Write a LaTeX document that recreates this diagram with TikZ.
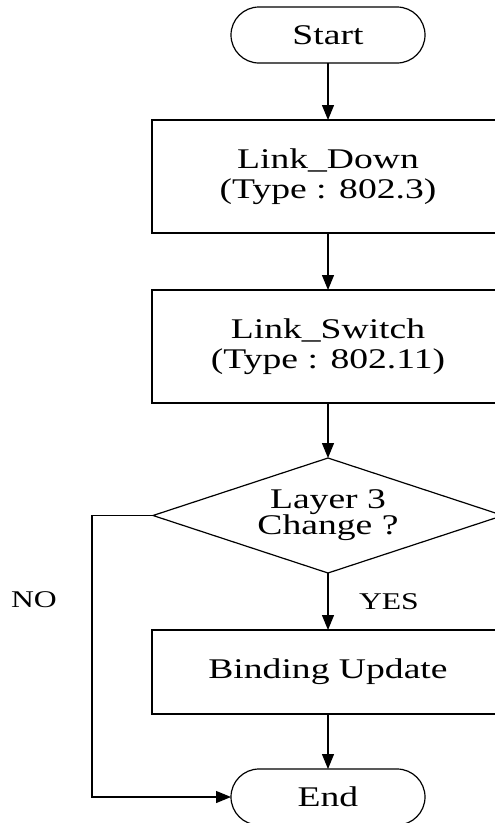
\documentclass[tikz,border=0pt]{standalone}
\usepackage{fontspec}
\setmainfont[FakeStretch=1.32]{Liberation Serif}
\usetikzlibrary{shapes.geometric,shapes.misc,arrows.meta}

\tikzset{
  every node/.style={inner sep=0pt, outer sep=0pt},
  flowline/.style={line width=1.2pt, draw=black},
  arr/.style={flowline, -{Triangle[length=15pt,width=12pt]}},
  terminal/.style={flowline, rounded rectangle, minimum width=194pt,
    minimum height=56pt, font=\fontsize{28.5}{30}\selectfont},
  process/.style={flowline, rectangle, minimum width=352pt, align=center,
    font=\fontsize{28.5}{30}\selectfont},
  decision/.style={flowline, diamond, aspect=3, minimum width=350pt,
    minimum height=115pt, align=center, font=\fontsize{28.5}{26}\selectfont},
  branchlabel/.style={font=\fontsize{24}{26}\selectfont},
}

\begin{document}
\begin{tikzpicture}[x=1pt,y=-1pt]
  \useasboundingbox (0,0) rectangle (495,823);
  \fill[white] (0,0) rectangle (495,823);
  \clip (0,0) rectangle (495,823);

  \node[terminal] (start) at (328,35) {Start};
  \node[process, minimum height=113pt] (down) at (328,176.5)
    {Link\_Down\\(Type : 802.3)};
  \node[process, minimum height=113pt] (switch) at (328,346.5)
    {Link\_Switch\\(Type : 802.11)};
  \node[decision] (layer) at (328,515.5) {Layer 3\\Change ?};
  \node[process, minimum height=84pt] (bind) at (328,672) {Binding Update};
  \node[terminal] (finish) at (328,797) {End};

  \draw[arr] (start) -- (down);
  \draw[arr] (down) -- (switch);
  \draw[arr] (switch) -- (layer);
  \draw[arr] (layer) -- node[branchlabel, anchor=west, xshift=31pt] {YES} (bind);
  \draw[arr] (bind) -- (finish);
  \draw[arr] (layer.west) -- ++(-61,0) |- (finish.west);

  \node[branchlabel] (nolabel) at (34,600) {NO};
\end{tikzpicture}
\end{document}
